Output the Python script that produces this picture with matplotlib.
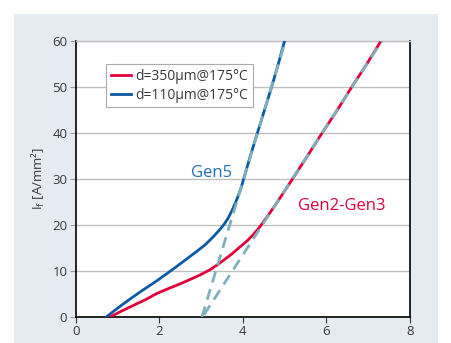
import numpy as np
import matplotlib
matplotlib.use("Agg")
from matplotlib import pyplot as plt
from matplotlib.patches import Rectangle

# Gen2-Gen3, d=350um
red_x = [0.82, 1.1, 1.4, 1.7, 1.94, 2.2, 2.5, 2.75, 2.97, 3.2, 3.37, 3.55, 3.75, 3.93, 4.1, 4.25, 4.4, 4.57, 4.82, 5.19, 5.54, 5.9, 6.25, 6.61, 6.97, 7.31]
red_y = [0.0, 1.3, 2.6, 3.9, 5.1, 6.1, 7.2, 8.2, 9.1, 10.2, 11.2, 12.4, 13.8, 15.2, 16.5, 17.9, 19.5, 21.6, 24.9, 30.0, 34.9, 40.0, 44.8, 50.0, 55.0, 60.0]
# Gen5, d=110um
blue_x = [0.73, 1.0, 1.3, 1.6, 1.9, 2.18, 2.45, 2.7, 2.89, 3.1, 3.29, 3.42, 3.55, 3.65, 3.75, 3.85, 3.95, 4.02, 4.18, 4.35, 4.52, 4.69, 4.85, 5.0]
blue_y = [0.0, 1.9, 3.9, 5.8, 7.6, 9.4, 11.2, 12.9, 14.2, 15.7, 17.4, 18.7, 20.1, 21.5, 23.3, 25.4, 27.8, 30.0, 35.0, 40.0, 45.0, 50.0, 55.0, 60.0]
# linear fits (dashed)
fit5_x = [3.02, 5.02]
fit5_y = [0.0, 60.0]
fit23_x = [3.07, 7.33]
fit23_y = [0.5, 60.0]

red = "#e2003c"
blue = "#0a5aa5"
fit_col = "#7eb1b9"
txt = "#3a3a3a"

plt.rcParams['font.family'] = ['Open Sans', 'DejaVu Sans']

fig = plt.figure(figsize=(4.51, 3.43), dpi=100)
fig.patches.append(Rectangle((14 / 451, 0), 424 / 451, 329 / 343, transform=fig.transFigure,
                             facecolor="#e6eaf1", edgecolor="none", zorder=-10))
ax = fig.add_axes([75.7 / 451, 26 / 343, 334.3 / 451, 276.3 / 343])
ax.set_facecolor("white")

ax.plot(red_x, red_y, color=red, lw=2.0, label="d=350µm@175°C", zorder=3)
ax.plot(blue_x, blue_y, color=blue, lw=2.0, label="d=110µm@175°C", zorder=3)
ax.plot(fit5_x, fit5_y, color=fit_col, lw=2.0, ls=(0, (4, 2.5)), zorder=4)
ax.plot(fit23_x, fit23_y, color=fit_col, lw=2.0, ls=(0, (4, 2.5)), zorder=4)

ax.set_xlim(0, 8)
ax.set_ylim(0, 60)
ax.set_xticks([0, 2, 4, 6, 8])
ax.set_yticks([0, 10, 20, 30, 40, 50, 60])
ax.yaxis.grid(True, color="#c0c0c0", lw=1.0)
ax.set_axisbelow(True)
ax.tick_params(axis="both", labelsize=9.5, colors=txt, length=4, width=0.8, pad=2)
ax.tick_params(axis="y", color="#999999")
ax.tick_params(axis="x", color="#333333")
for s in ["left", "bottom", "right"]:
    ax.spines[s].set_color("black")
    ax.spines[s].set_linewidth(1.2)
ax.spines["top"].set_color("#c0c0c0")
ax.spines["top"].set_linewidth(1.0)

ax.set_ylabel(r"I$_\mathregular{f}$ [A/mm²]", fontsize=9.5, color=txt, labelpad=4)

ax.text(3.25, 31.2, "Gen5", color="#1f6fb5", fontsize=12, ha="center", va="center")
ax.text(6.37, 24.1, "Gen2-Gen3", color=red, fontsize=12, ha="center", va="center")

leg = ax.legend(loc="upper left", bbox_to_anchor=(0.09, 0.915), fontsize=10, frameon=True,
                fancybox=False, edgecolor="#aaaaaa", framealpha=1, handlelength=1.5,
                handletextpad=0.3, borderpad=0.35, labelspacing=0.25, borderaxespad=0)
for t in leg.get_texts():
    t.set_color(txt)
leg.get_frame().set_linewidth(0.8)

fig.savefig("out.png", dpi=100)
